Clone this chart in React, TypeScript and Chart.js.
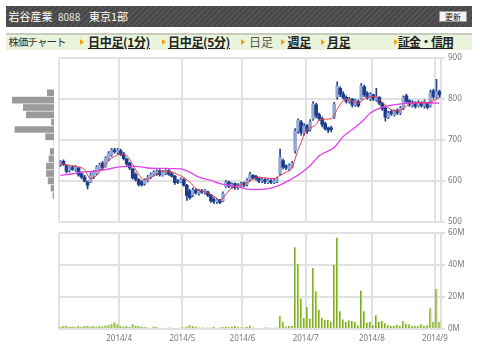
import React, { useEffect, useRef } from 'react';
import { Chart, registerables } from 'chart.js';
Chart.register(...registerables);

// trading days per month (2014)
const MARCH = [3, 4, 5, 6, 7, 10, 11, 12, 13, 14, 17, 18, 19, 20, 24, 25, 26, 27, 28, 31];
const APRIL = [1, 2, 3, 4, 7, 8, 9, 10, 11, 14, 15, 16, 17, 18, 21, 22, 23, 24, 25, 28, 30];
const MAY = [1, 2, 7, 8, 9, 12, 13, 14, 15, 16, 19, 20, 21, 22, 23, 26, 27, 28, 29, 30];
const JUNE = [2, 3, 4, 5, 6, 9, 10, 11, 12, 13, 16, 17, 18, 19, 20, 23, 24, 25, 26, 27, 30];
const JULY = [1, 2, 3, 4, 7, 8, 9, 10, 11, 14, 15, 16, 17, 18, 22, 23, 24, 25, 28, 29, 30, 31];
const AUGUST = [1, 4, 5, 6, 7, 8, 11, 12, 13, 14, 15, 18, 19, 20, 21, 22, 25, 26, 27, 28, 29];
const SEPTEMBER = [1, 2];
const MONTHS: [number, number[]][] = [[3, MARCH], [4, APRIL], [5, MAY], [6, JUNE], [7, JULY], [8, AUGUST], [9, SEPTEMBER]];

const OPEN = [
  640, 648, 638, 626, 634, 628, 632, 618, 610, 598,
  598, 612, 618, 630, 644, 636, 654, 664, 676, 670,
  674, 666, 654, 644, 630, 616, 604, 598, 594, 602,
  610, 614, 618, 625, 614, 620, 626, 618, 612, 600,
  598, 604, 590, 575, 566, 578, 570, 576, 572, 574,
  566, 556, 550, 555, 552, 586, 598, 586, 594, 584,
  588, 596, 592, 604, 614, 612, 606, 600, 604, 596,
  602, 597, 600, 618, 650, 638, 630, 634, 674, 722,
  744, 718, 736, 726, 752, 786, 762, 752, 740, 730,
  730, 756, 806, 826, 812, 804, 794, 800, 786, 794,
  800, 830, 814, 800, 810, 798, 804, 790, 778, 756,
  770, 762, 772, 766, 778, 808, 796, 784, 792, 782,
  792, 782, 790, 784, 820, 806, 818,
];
const HIGH = [
  650, 652, 640, 636, 638, 638, 634, 622, 614, 600,
  620, 626, 638, 644, 648, 660, 672, 680, 680, 680,
  678, 670, 656, 646, 632, 620, 606, 602, 606, 614,
  620, 626, 628, 628, 626, 628, 628, 622, 614, 604,
  608, 606, 592, 580, 584, 582, 580, 580, 580, 576,
  568, 560, 558, 556, 574, 602, 600, 596, 596, 594,
  598, 598, 606, 622, 616, 614, 608, 608, 606, 606,
  604, 606, 610, 678, 654, 640, 642, 648, 728, 752,
  748, 740, 738, 750, 794, 790, 766, 756, 744, 732,
  734, 792, 842, 830, 818, 808, 804, 802, 800, 798,
  838, 834, 818, 816, 812, 826, 806, 792, 782, 770,
  774, 774, 776, 782, 808, 812, 798, 796, 794, 796,
  794, 798, 792, 822, 824, 848, 822,
];
const LOW = [
  636, 638, 620, 622, 626, 624, 612, 606, 598, 581,
  596, 606, 616, 626, 628, 634, 650, 660, 668, 666,
  662, 652, 638, 628, 605, 600, 588, 588, 590, 598,
  606, 612, 614, 612, 612, 616, 614, 610, 592, 594,
  596, 588, 553, 556, 562, 568, 566, 570, 568, 562,
  548, 545, 546, 545, 550, 584, 584, 582, 580, 580,
  584, 586, 588, 600, 604, 602, 596, 596, 594, 594,
  594, 594, 596, 614, 630, 628, 626, 632, 668, 716,
  712, 712, 716, 722, 748, 754, 748, 732, 724, 718,
  720, 752, 800, 806, 800, 790, 790, 780, 782, 780,
  798, 806, 800, 796, 796, 794, 786, 772, 746, 752,
  760, 758, 762, 762, 774, 790, 782, 780, 778, 780,
  780, 778, 776, 780, 800, 802, 804,
];
const CLOSE = [
  647, 640, 624, 634, 628, 635, 615, 610, 600, 590,
  615, 622, 634, 640, 632, 656, 668, 676, 672, 676,
  665, 655, 642, 632, 608, 604, 592, 591, 604, 610,
  616, 622, 624, 616, 622, 625, 617, 612, 596, 598,
  605, 590, 565, 560, 578, 572, 576, 573, 578, 566,
  552, 550, 555, 548, 570, 598, 588, 592, 584, 590,
  594, 590, 602, 616, 608, 606, 600, 604, 598, 602,
  597, 602, 606, 658, 634, 632, 638, 644, 722, 748,
  718, 734, 722, 744, 788, 760, 752, 738, 728, 724,
  726, 788, 832, 812, 804, 794, 800, 786, 796, 784,
  832, 810, 804, 812, 800, 806, 790, 776, 756, 766,
  764, 770, 766, 778, 804, 794, 786, 792, 782, 792,
  784, 794, 780, 816, 806, 818, 810,
];
// volume, millions of shares
const VOLUME = [
  1.2, 1.8, 2.0, 1.4, 1.6, 1.2, 1.8, 1.5, 1.8, 2.0,
  1.6, 1.9, 1.5, 1.8, 1.6, 2.2, 2.4, 3.0, 4.2, 3.0,
  1.9, 1.6, 1.8, 1.4, 3.0, 2.2, 1.8, 1.5, 1.3, 0.9,
  0.7, 1.6, 1.4, 0.7, 0.8, 0.7, 0.9, 0.8, 0.7, 0.6,
  0.9, 1.0, 1.6, 2.4, 1.8, 1.6, 1.0, 1.0, 0.8, 0.9,
  1.0, 1.2, 0.8, 0.9, 1.3, 1.6, 1.2, 1.6, 1.8, 1.4,
  1.0, 1.0, 1.2, 2.2, 1.0, 0.8, 0.7, 0.8, 1.0, 0.9,
  0.8, 0.8, 0.9, 8.0, 4.5, 1.5, 1.8, 1.8, 51, 40.5,
  19, 7, 13.5, 6.5, 38, 23.5, 12, 7, 5.7, 5.7,
  4.5, 40, 57, 11, 6, 4.5, 5.4, 5, 4.5, 2.4,
  24, 11, 4, 4.5, 2.4, 8.5, 4.5, 5, 3.6, 2.4,
  2, 2, 2.6, 1.8, 5, 3.4, 3, 2, 2, 2,
  3, 2, 2.4, 13, 4.5, 25, 4.3,
];
// short moving average (red), read at these day indices
const RED_IDX = [0, 5, 8, 10, 12, 14, 16, 18, 20, 22, 24, 26, 28, 30, 32, 34, 37, 40, 43, 45, 48, 50, 52, 53, 55, 57, 59, 62, 64, 66, 69, 71, 73, 75, 77, 78, 79, 80, 81, 82, 83, 85, 86, 88, 90, 92, 93, 95, 97, 99, 101, 103, 105, 106, 108, 110, 112, 114, 116, 118, 121, 123, 125, 126];
const RED_VAL = [642, 636, 628, 606, 614, 632, 650, 660, 666, 662, 640, 616, 603, 608, 618, 625, 622, 613, 598, 582, 574, 568, 558, 553, 568, 584, 589, 596, 606, 610, 607, 606, 614, 622, 632, 654, 677, 694, 714, 726, 730, 738, 749, 751, 752, 775, 787, 799, 795, 790, 800, 806, 806, 799, 785, 774, 771, 777, 788, 791, 791, 793, 799, 805];
// long moving average (magenta)
const MAG_IDX = [0, 4, 7, 11, 15, 19, 22, 25, 29, 33, 40, 43, 46, 50, 53, 56, 60, 63, 66, 70, 73, 76, 80, 83, 86, 91, 94, 98, 101, 103, 107, 112, 115, 120, 126];
const MAG_VAL = [614, 618, 622, 624, 628, 634, 636, 636, 632, 631, 630, 622, 610, 602, 594, 590, 584, 580, 580, 583, 591, 602, 620, 638, 662, 682, 709, 731, 751, 766, 780, 787, 790, 791, 790];
// volume-by-price profile (relative)
const PROFILE_PRICE = [550, 570, 590, 610, 630, 650, 670, 690, 710, 730, 750, 770, 790, 810, 830];
const PROFILE_VOL = [2.4, 7, 14, 18, 18, 12, 9, 0, 20, 93, 6, 66, 73, 100, 16];

const DATES: { m: number; d: number; first: boolean }[] = [];
MONTHS.forEach(([m, days]) => days.forEach((d, k) => DATES.push({ m, d, first: k === 0 })));
const N = DATES.length;
const LABELS = DATES.map((x) => `2014/${x.m}/${x.d}`);
const SHOW_TICK = DATES.map((x) => x.first && x.m !== 3);

const GRID = '#e1e1e1';
const TICK_COLOR = '#777';
const TICK_FONT = { family: '"Noto Sans", sans-serif', size: 8 };
const UP = '#93a9d3';
const DOWN = '#1e3c8c';
const WICK = '#23408f';

function sparse(idx: number[], val: number[]) {
  const a: (number | null)[] = new Array(N).fill(null);
  idx.forEach((k, j) => { a[k] = val[j]; });
  return a;
}

const xGridColor = (ctx: any) => {
  if (ctx.type !== 'tick') return GRID;
  const i = ctx.index;
  return i === 0 || SHOW_TICK[i] ? GRID : 'rgba(0,0,0,0)';
};

export default function App() {
  const priceRef = useRef<HTMLCanvasElement>(null);
  const volRef = useRef<HTMLCanvasElement>(null);
  const profRef = useRef<HTMLCanvasElement>(null);

  useEffect(() => {
    const up = CLOSE.map((c, i) => c >= OPEN[i]);
    const price = new Chart(priceRef.current!, {
      type: 'bar',
      data: {
        labels: LABELS,
        datasets: [
          {
            type: 'line', data: sparse(RED_IDX, RED_VAL), borderColor: '#e8384f', borderWidth: 1,
            pointRadius: 0, spanGaps: true, cubicInterpolationMode: 'monotone', order: 0,
          } as any,
          {
            type: 'line', data: sparse(MAG_IDX, MAG_VAL), borderColor: '#e040ec', borderWidth: 1.3,
            pointRadius: 0, spanGaps: true, cubicInterpolationMode: 'monotone', order: 0,
          } as any,
          {
            type: 'bar', data: OPEN.map((o, i) => [o, CLOSE[i]]),
            backgroundColor: up.map((u) => (u ? UP : DOWN)), barThickness: 3, grouped: false, order: 1,
          } as any,
          {
            type: 'bar', data: LOW.map((l, i) => [l, HIGH[i]]),
            backgroundColor: WICK, barThickness: 1, grouped: false, order: 2,
          } as any,
        ],
      },
      options: {
        responsive: false, animation: false, events: [],
        layout: { padding: { left: 59, right: 0, top: 8, bottom: 7 } },
        plugins: { legend: { display: false }, tooltip: { enabled: false } },
        scales: {
          x: {
            type: 'category', offset: true,
            grid: { offset: true, color: xGridColor, lineWidth: 2, drawTicks: false },
            border: { display: false },
            ticks: { display: false, autoSkip: false },
            afterFit: (s: any) => { s.height = 0; },
          },
          y: {
            position: 'right', min: 500, max: 900,
            ticks: { stepSize: 100, color: TICK_COLOR, font: TICK_FONT, padding: 3 },
            grid: { color: GRID, lineWidth: 2, drawTicks: true, tickLength: 4 },
            border: { display: false },
            afterFit: (s: any) => { s.width = 39; },
          },
        },
      } as any,
    });

    const vol = new Chart(volRef.current!, {
      type: 'bar',
      data: {
        labels: LABELS,
        datasets: [
          {
            data: VOLUME, backgroundColor: '#b2d264', borderColor: '#7ba528',
            borderWidth: { left: 1, right: 0, top: 0, bottom: 0 }, barThickness: 2,
          } as any,
        ],
      },
      options: {
        responsive: false, animation: false, events: [],
        layout: { padding: { left: 59, right: 0, top: 5, bottom: 6 } },
        plugins: { legend: { display: false }, tooltip: { enabled: false } },
        scales: {
          x: {
            type: 'category', offset: true,
            grid: { offset: true, color: xGridColor, lineWidth: 2, drawTicks: false },
            border: { display: false },
            ticks: {
              autoSkip: false, maxRotation: 0, color: TICK_COLOR, font: TICK_FONT, padding: 5, labelOffset: -1.5,
              callback: (_v: any, i: number) => (SHOW_TICK[i] ? `2014/${DATES[i].m}` : ''),
            },
            afterFit: (s: any) => { s.height = 20; },
          },
          y: {
            position: 'right', min: 0, max: 60,
            ticks: { stepSize: 20, color: TICK_COLOR, font: TICK_FONT, padding: 3, callback: (v: any) => `${v}M` },
            grid: { color: GRID, lineWidth: 2, drawTicks: true, tickLength: 4 },
            border: { display: false },
            afterFit: (s: any) => { s.width = 39; },
          },
        },
      } as any,
    });

    const prof = new Chart(profRef.current!, {
      type: 'bar',
      data: {
        datasets: [
          {
            data: PROFILE_PRICE.map((p, i) => ({ x: PROFILE_VOL[i], y: p })),
            backgroundColor: '#9b9b9b', barThickness: 6,
          } as any,
        ],
      },
      options: {
        indexAxis: 'y', responsive: false, animation: false, events: [],
        layout: { padding: { left: 12, right: 0, top: 8, bottom: 7 } },
        plugins: { legend: { display: false }, tooltip: { enabled: false } },
        scales: {
          x: { type: 'linear', min: 0, max: 100, reverse: true, display: false },
          y: { type: 'linear', min: 500, max: 900, display: false },
        },
      } as any,
    });

    return () => { price.destroy(); vol.destroy(); prof.destroy(); };
  }, []);

  const tri = (left: number) => (
    <div style={{
      position: 'absolute', left, top: 3.5, width: 0, height: 0,
      borderLeft: '4px solid #f2a100', borderTop: '3px solid transparent', borderBottom: '3px solid transparent',
    }} />
  );
  const link = (left: number, text: string, active = true) => (
    <span style={{
      position: 'absolute', left, top: 0, lineHeight: '14px', fontSize: 12, whiteSpace: 'nowrap',
      fontWeight: active ? 700 : 400, color: active ? '#222' : '#555',
      textDecoration: active ? 'underline' : 'none', letterSpacing: active ? '-0.3px' : '0px',
    }}>{text}</span>
  );

  return (
    <div style={{
      position: 'absolute', left: 0, top: 0, width: 480, height: 355, background: '#fff', overflow: 'hidden',
      fontFamily: '"Noto Sans CJK JP", "Noto Sans", sans-serif',
    }}>
      <div style={{
        position: 'absolute', left: 6, top: 6, width: 466, height: 21,
        background: 'repeating-linear-gradient(135deg, #474747 0px, #474747 2px, #545454 2px, #545454 4px)',
      }}>
        <span style={{ position: 'absolute', left: 2.5, top: 0, lineHeight: '21px', fontSize: 11, color: '#fff', whiteSpace: 'nowrap' }}>岩谷産業</span>
        <span style={{ position: 'absolute', left: 52, top: 0, lineHeight: '21px', fontSize: 10, color: '#e4e4e4', whiteSpace: 'nowrap' }}>8088</span>
        <span style={{ position: 'absolute', left: 83, top: 0, lineHeight: '21px', fontSize: 11, color: '#fff', whiteSpace: 'nowrap' }}>東京1部</span>
        <div style={{
          position: 'absolute', left: 433, top: 5, width: 28, height: 11, boxSizing: 'border-box',
          border: '1px solid #9a9a9a', background: '#f3f3f3', fontSize: 8, lineHeight: '9px',
          textAlign: 'center', color: '#222', overflow: 'hidden', whiteSpace: 'nowrap',
        }}>更新</div>
      </div>
      <div style={{
        position: 'absolute', left: 6, top: 33, width: 466, height: 17, boxSizing: 'border-box',
        borderTop: '2px solid #c6ccbe', background: '#eaf3db',
      }}>
        <span style={{ position: 'absolute', left: 2.5, top: 0, lineHeight: '14px', fontSize: 10.5, letterSpacing: '-1px', color: '#333', whiteSpace: 'nowrap' }}>株価チャート</span>
        {tri(74)}
        {link(82, '日中足(1分)')}
        {tri(155.5)}
        {link(162, '日中足(5分)')}
        {tri(235)}
        {link(243, '日足', false)}
        {tri(274.5)}
        {link(281.5, '週足')}
        {tri(314.5)}
        {link(321, '月足')}
        {tri(387.5)}
        <span style={{
          position: 'absolute', left: 392, top: 0, lineHeight: '14px', fontSize: 12, fontWeight: 700, color: '#222',
          textDecoration: 'underline', letterSpacing: '-1px', whiteSpace: 'nowrap',
        }}>証金・信用</span>
      </div>
      <canvas ref={profRef} width={54} height={180} style={{ position: 'absolute', left: 0, top: 50 }} />
      <canvas ref={priceRef} width={480} height={180} style={{ position: 'absolute', left: 0, top: 50 }} />
      <canvas ref={volRef} width={480} height={130} style={{ position: 'absolute', left: 0, top: 225 }} />
    </div>
  );
}
